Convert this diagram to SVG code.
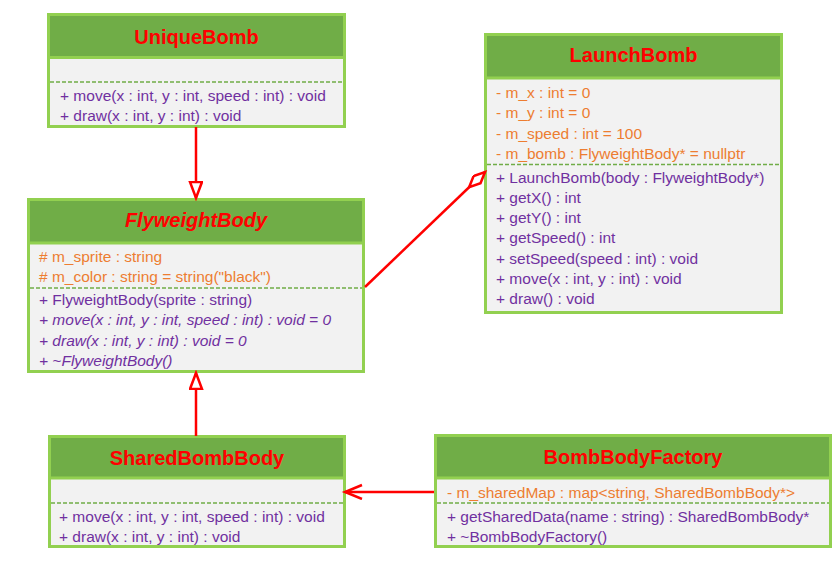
<svg xmlns="http://www.w3.org/2000/svg" width="840" height="564" viewBox="0 0 840 564">
<style>
.hd{fill:#70AD47;stroke:#92D050;stroke-width:3}
.bd{fill:#F2F2F2;stroke:#92D050;stroke-width:3}
.dash{stroke:#70AD47;stroke-width:1.5;stroke-dasharray:4 2}
.t{font-family:"Liberation Sans",Arial,sans-serif;font-size:20px;font-weight:bold;fill:#FF0000;text-anchor:middle}
.a{font-family:"Liberation Sans",Arial,sans-serif;font-size:15.5px;fill:#ED7D31}
.m{font-family:"Liberation Sans",Arial,sans-serif;font-size:15.5px;fill:#7030A0}
.i{font-style:italic}
.c{stroke:#FF0000;stroke-width:2.5;fill:none}
</style>
<defs>
<marker id="tri" markerUnits="userSpaceOnUse" markerWidth="20" markerHeight="16" refX="17" refY="7" orient="auto">
<path d="M1,1 L17,7 L1,13 Z" fill="#FFFFFF" stroke="#FF0000" stroke-width="2.5"/>
</marker>
<marker id="dia" markerUnits="userSpaceOnUse" markerWidth="26" markerHeight="14" refX="23" refY="6" orient="auto">
<path d="M1,6 L12,1 L23,6 L12,11 Z" fill="#FFFFFF" stroke="#FF0000" stroke-width="2.5"/>
</marker>
<marker id="arr" markerUnits="userSpaceOnUse" markerWidth="22" markerHeight="18" refX="18" refY="8" orient="auto">
<path d="M1,1 L18,8 L1,15" fill="none" stroke="#FF0000" stroke-width="2.5"/>
</marker>
</defs>
<rect width="840" height="564" fill="#FFFFFF"/>

<g id="UniqueBomb">
<rect class="bd" x="48.5" y="14.5" width="296" height="112"/>
<rect class="hd" x="48.5" y="14.5" width="296" height="43"/>
<text class="t" x="196.5" y="44">UniqueBomb</text>
<line class="dash" x1="50" y1="82" x2="343" y2="82"/>
<text class="m" x="60" y="101">+ move(x : int, y : int, speed : int) : void</text>
<text class="m" x="60" y="120.5">+ draw(x : int, y : int) : void</text>
</g>

<g id="LaunchBomb">
<rect class="bd" x="485.5" y="34.5" width="296" height="278"/>
<rect class="hd" x="485.5" y="34.5" width="296" height="43.5"/>
<text class="t" x="633.5" y="62">LaunchBomb</text>
<text class="a" x="496" y="97.5">- m_x : int = 0</text>
<text class="a" x="496" y="118">- m_y : int = 0</text>
<text class="a" x="496" y="138.5">- m_speed : int = 100</text>
<text class="a" x="496" y="159">- m_bomb : FlyweightBody* = nullptr</text>
<line class="dash" x1="487" y1="164.5" x2="780" y2="164.5"/>
<text class="m" x="496" y="182.5">+ LaunchBomb(body : FlyweightBody*)</text>
<text class="m" x="496" y="202.8">+ getX() : int</text>
<text class="m" x="496" y="223.1">+ getY() : int</text>
<text class="m" x="496" y="243.4">+ getSpeed() : int</text>
<text class="m" x="496" y="263.7">+ setSpeed(speed : int) : void</text>
<text class="m" x="496" y="284">+ move(x : int, y : int) : void</text>
<text class="m" x="496" y="304.3">+ draw() : void</text>
</g>

<g id="FlyweightBody">
<rect class="bd" x="28.5" y="199.5" width="335" height="172"/>
<rect class="hd" x="28.5" y="199.5" width="335" height="43.5"/>
<text class="t i" x="196" y="227">FlyweightBody</text>
<text class="a" x="39" y="261.5"># m_sprite : string</text>
<text class="a" x="39" y="281.5"># m_color : string = string("black")</text>
<line class="dash" x1="30" y1="288" x2="362" y2="288"/>
<text class="m" x="39" y="304.5">+ FlyweightBody(sprite : string)</text>
<text class="m i" x="39" y="325">+ move(x : int, y : int, speed : int) : void = 0</text>
<text class="m i" x="39" y="345.5">+ draw(x : int, y : int) : void = 0</text>
<text class="m i" x="39" y="366">+ ~FlyweightBody()</text>
</g>

<g id="SharedBombBody">
<rect class="bd" x="49.5" y="436.5" width="295" height="110"/>
<rect class="hd" x="49.5" y="436.5" width="295" height="41.5"/>
<text class="t" x="197" y="465">SharedBombBody</text>
<line class="dash" x1="51" y1="503" x2="343" y2="503"/>
<text class="m" x="59" y="521.5">+ move(x : int, y : int, speed : int) : void</text>
<text class="m" x="59" y="541.5">+ draw(x : int, y : int) : void</text>
</g>

<g id="BombBodyFactory">
<rect class="bd" x="435.5" y="435.5" width="395" height="111"/>
<rect class="hd" x="435.5" y="435.5" width="395" height="42.5"/>
<text class="t" x="633" y="464">BombBodyFactory</text>
<text class="a" x="447" y="497.5">- m_sharedMap : map&lt;string, SharedBombBody*&gt;</text>
<line class="dash" x1="437" y1="503" x2="829" y2="503"/>
<text class="m" x="447" y="521.5">+ getSharedData(name : string) : SharedBombBody*</text>
<text class="m" x="447" y="542">+ ~BombBodyFactory()</text>
</g>

<g id="connectors">
<line class="c" x1="196" y1="127" x2="196" y2="198" marker-end="url(#tri)"/>
<line class="c" x1="196" y1="436" x2="196" y2="373" marker-end="url(#tri)"/>
<line class="c" x1="365" y1="287" x2="485" y2="172" marker-end="url(#dia)"/>
<line class="c" x1="434" y1="492" x2="345" y2="492" marker-end="url(#arr)"/>
</g>
</svg>
